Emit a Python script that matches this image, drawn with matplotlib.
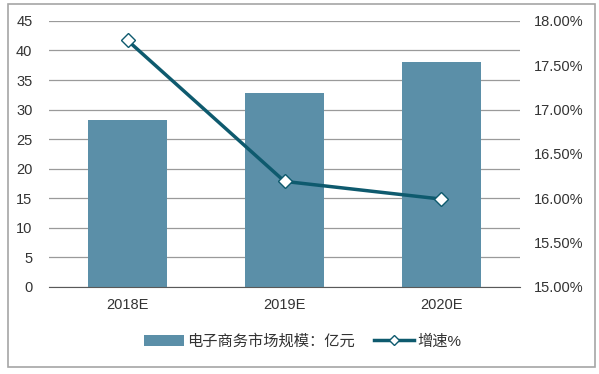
import matplotlib.pyplot as plt
from matplotlib.patches import Rectangle
from matplotlib.ticker import FuncFormatter

plt.rcParams['font.family'] = ['Liberation Sans', 'Noto Sans CJK SC']

years = ['2018E', '2019E', '2020E']
market = [28.3, 32.8, 38.1]
growth = [17.78, 16.19, 15.99]

fig = plt.figure(figsize=(5.99, 3.74), dpi=100)
fig.patches.append(Rectangle((0.013, 0.02), 0.98, 0.97, transform=fig.transFigure,
                             fill=False, edgecolor='#a6a6a6', linewidth=1.2))
ax = fig.add_axes([0.082, 0.233, 0.786, 0.711])
x = list(range(len(years)))
bars = ax.bar(x, market, width=0.5, color='#5b8fa8', label='电子商务市场规模：亿元', zorder=2)
ax.set_ylim(0, 45)
ax.set_xlim(-0.5, 2.5)
ax.set_yticks(range(0, 46, 5))
ax.set_xticks(x)
ax.set_xticklabels(years)
ax.yaxis.grid(True, color='#9a9a9a', linewidth=0.9, zorder=0)
for s in ['top', 'right', 'left']:
    ax.spines[s].set_visible(False)
ax.spines['bottom'].set_color('#595959')
ax.tick_params(length=0, labelsize=10.5, colors='#333333')
ax.tick_params(axis='y', pad=12)
ax.tick_params(axis='x', pad=8)

ax2 = ax.twinx()
line, = ax2.plot(x, growth, color='#0e5a6e', linewidth=2.5, marker='D', markersize=7,
                 markerfacecolor='white', markeredgecolor='#0e5a6e', markeredgewidth=1,
                 label='增速%', zorder=3)
ax2.set_ylim(15, 18)
ax2.set_yticks([15, 15.5, 16, 16.5, 17, 17.5, 18])
ax2.yaxis.set_major_formatter(FuncFormatter(lambda v, p: f'{v:.2f}%'))
for s in ax2.spines.values():
    s.set_visible(False)
ax2.tick_params(length=0, labelsize=10.5, colors='#333333', pad=10)

fig.legend([bars, line], ['电子商务市场规模：亿元', '增速%'], loc='center',
           bbox_to_anchor=(0.505, 0.087), ncol=2, frameon=False, fontsize=11,
           handlelength=2.6, columnspacing=1.3, handletextpad=0.2, labelcolor='#333333',
           markerscale=0.7)
fig.savefig('out.png', dpi=100)
